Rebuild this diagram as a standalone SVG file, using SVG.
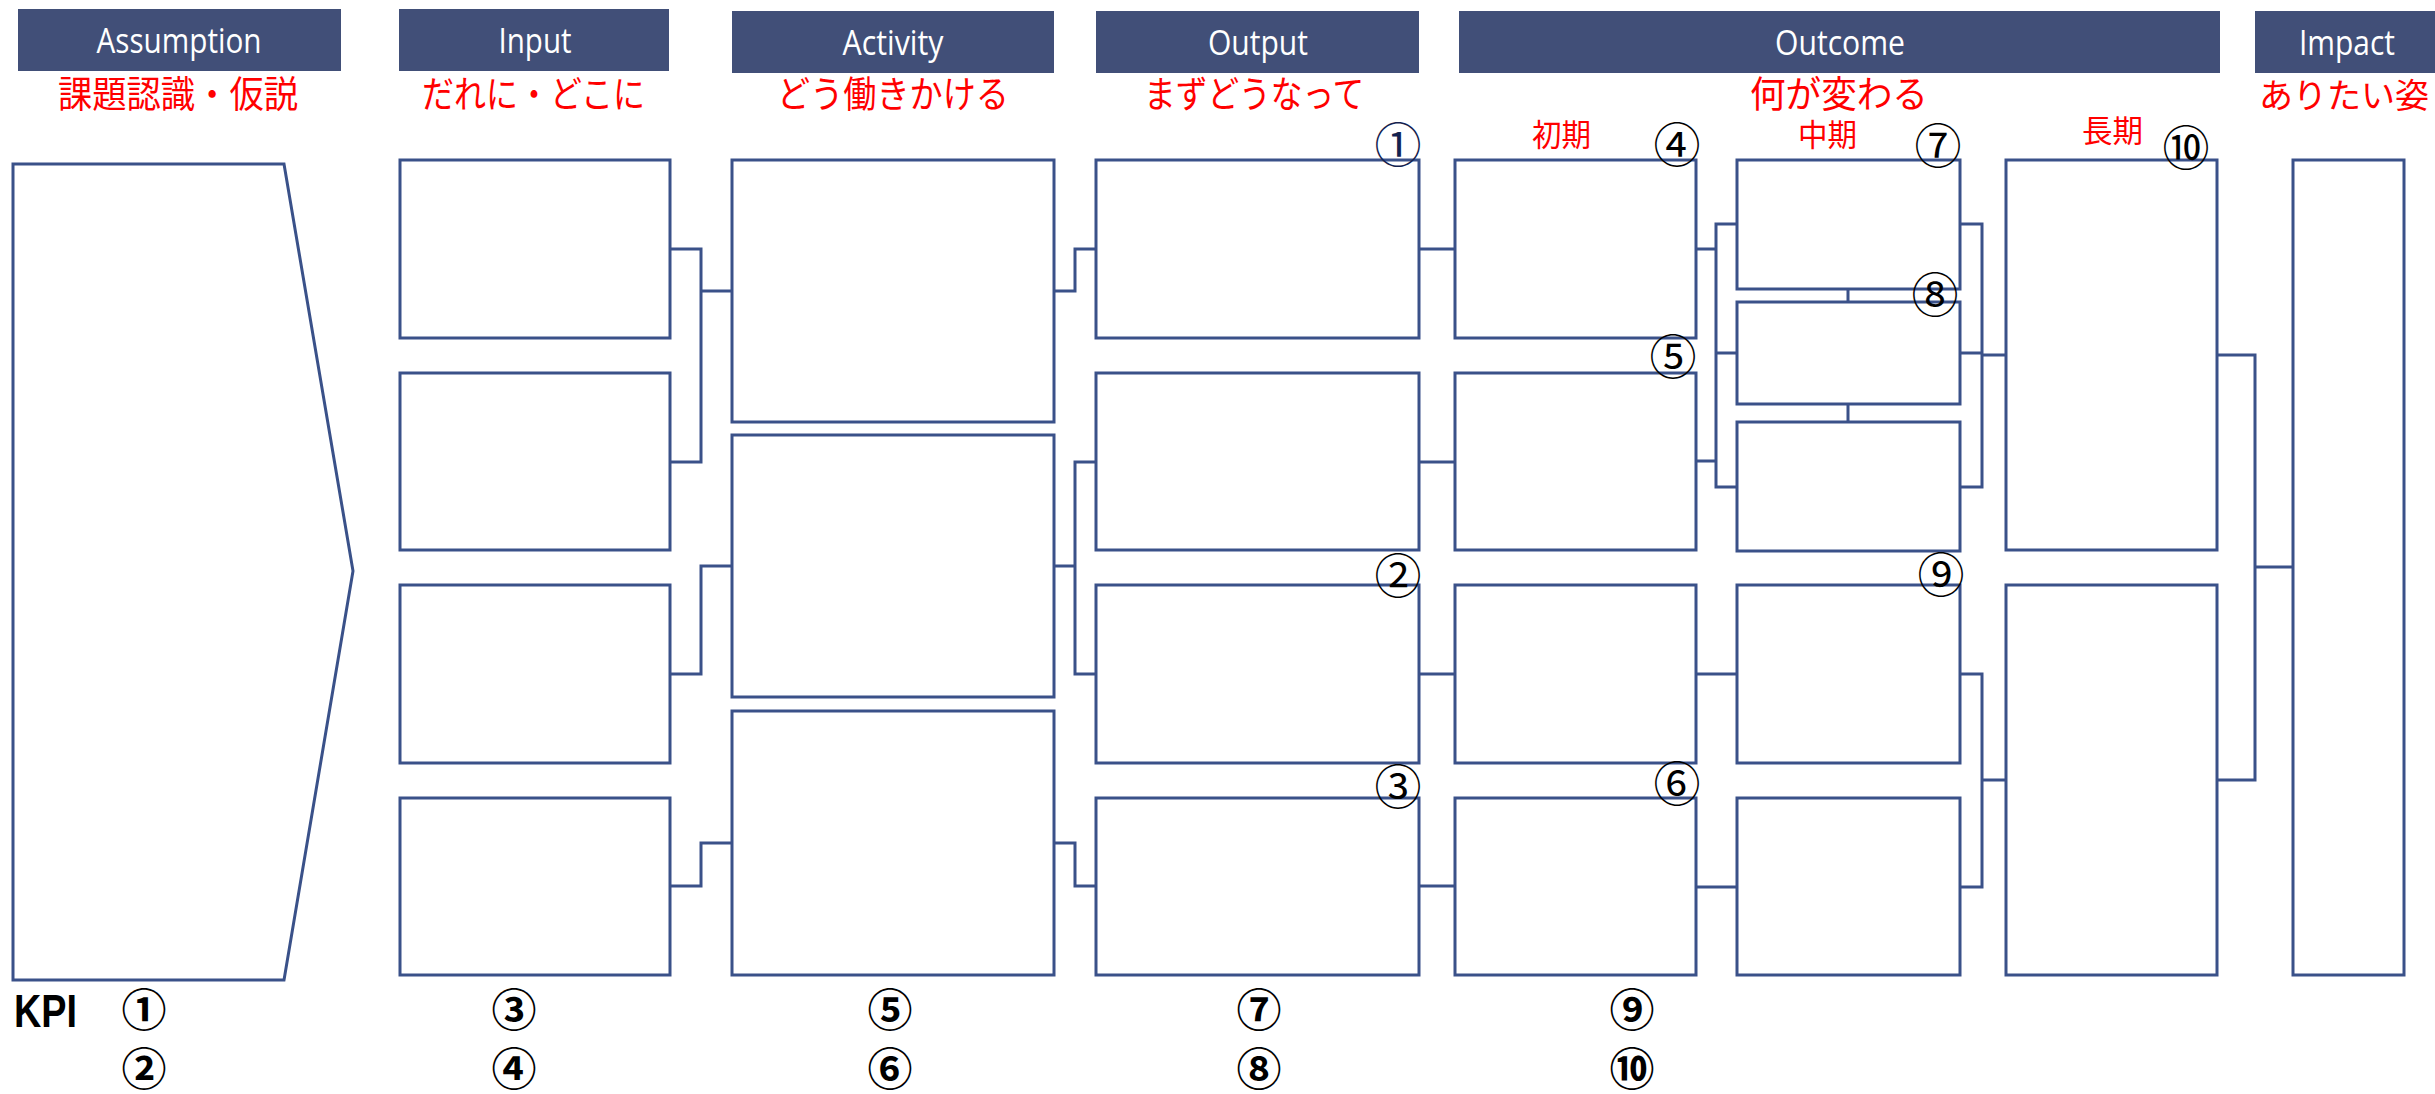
<svg xmlns="http://www.w3.org/2000/svg" width="2435" height="1094" viewBox="0 0 2435 1094">
<style>
.bg{fill:#fff}
.hdr{fill:#414F78}
.ht{font-family:"Open Sans","Noto Sans",sans-serif;font-size:34px;fill:#fff;text-anchor:middle}
.red{font-family:"Noto Sans CJK JP",sans-serif;font-size:37px;fill:#FF0000}
.sub{font-family:"Noto Sans CJK JP",sans-serif;font-size:31px;fill:#FF0000}
.box{fill:#fff;stroke:#3A5189;stroke-width:3}
.conn{fill:none;stroke:#3A5189;stroke-width:3}
.cn{font-family:"Noto Sans CJK JP",sans-serif;font-size:47px;fill:#000;text-anchor:middle;dominant-baseline:central}
.cb{font-family:"Noto Sans CJK JP",sans-serif;font-size:45px;font-weight:bold;fill:#000;text-anchor:middle;dominant-baseline:central}
.kpi{font-family:"Liberation Sans",Arial,sans-serif;font-size:46px;font-weight:bold;fill:#000}
</style>
<rect class="bg" x="0" y="0" width="2435" height="1094"/>

<g id="headers">
  <g id="h-assumption"><rect class="hdr" x="18" y="9" width="323" height="62"/><text class="ht" x="179" y="53" textLength="165" lengthAdjust="spacingAndGlyphs">Assumption</text></g>
  <g id="h-input"><rect class="hdr" x="399" y="9" width="270" height="62"/><text class="ht" x="535" y="53" textLength="73" lengthAdjust="spacingAndGlyphs">Input</text></g>
  <g id="h-activity"><rect class="hdr" x="732" y="11" width="322" height="62"/><text class="ht" x="893" y="55" textLength="101" lengthAdjust="spacingAndGlyphs">Activity</text></g>
  <g id="h-output"><rect class="hdr" x="1096" y="11" width="323" height="62"/><text class="ht" x="1258" y="55" textLength="100" lengthAdjust="spacingAndGlyphs">Output</text></g>
  <g id="h-outcome"><rect class="hdr" x="1459" y="11" width="761" height="62"/><text class="ht" x="1840" y="55" textLength="130" lengthAdjust="spacingAndGlyphs">Outcome</text></g>
  <g id="h-impact"><rect class="hdr" x="2255" y="11" width="180" height="62"/><text class="ht" x="2347" y="55" textLength="96" lengthAdjust="spacingAndGlyphs">Impact</text></g>
</g>

<g id="subtitles">
  <text class="red" transform="translate(58,108) scale(0.927,1)">課題認識・仮説</text>
  <text class="red" transform="translate(422,108) scale(0.865,1)">だれに・どこに</text>
  <text class="red" transform="translate(777,108) scale(0.896,1)">どう働きかける</text>
  <text class="red" transform="translate(1144,108) scale(0.857,1)">まずどうなって</text>
  <text class="red" transform="translate(1750,108) scale(0.962,1)">何が変わる</text>
  <text class="red" x="2259" y="108" style="font-size:34px">ありたい姿</text>
  <text class="sub" transform="translate(1532,146) scale(0.952,1)">初期</text>
  <text class="sub" transform="translate(1798,146) scale(0.952,1)">中期</text>
  <text class="sub" transform="translate(2082,142) scale(0.984,1)">長期</text>
</g>

<g id="connectors">
  <path class="conn" d="M670,249 H701 V462 H670 M701,291 H732"/>
  <path class="conn" d="M670,674 H701 V566 H732"/>
  <path class="conn" d="M670,886 H701 V843 H732"/>
  <path class="conn" d="M1054,291 H1075 V249 H1096"/>
  <path class="conn" d="M1096,462 H1075 V674 H1096 M1054,566 H1075"/>
  <path class="conn" d="M1054,843 H1075 V886 H1096"/>
  <path class="conn" d="M1419,249 H1455 M1419,462 H1455 M1419,674 H1455 M1419,886 H1455"/>
  <path class="conn" d="M1696,249 H1716 M1696,461 H1716 M1737,224 H1716 V487 H1737 M1716,353 H1737"/>
  <path class="conn" d="M1848,289 V302 M1848,404 V422"/>
  <path class="conn" d="M1696,674 H1737 M1696,887 H1737"/>
  <path class="conn" d="M1960,224 H1982 V487 H1960 M1960,353 H1982 M1982,355 H2006"/>
  <path class="conn" d="M1960,674 H1982 V887 H1960 M1982,780 H2006"/>
  <path class="conn" d="M2217,355 H2255 V780 H2217 M2255,567 H2293"/>
</g>

<g id="assumption"><polygon class="box" points="13,164 284,164 353,571 284,980 13,980"/></g>

<g id="input-1"><rect class="box" x="400" y="160" width="270" height="178"/></g>
<g id="input-2"><rect class="box" x="400" y="373" width="270" height="177"/></g>
<g id="input-3"><rect class="box" x="400" y="585" width="270" height="178"/></g>
<g id="input-4"><rect class="box" x="400" y="798" width="270" height="177"/></g>

<g id="activity-1"><rect class="box" x="732" y="160" width="322" height="262"/></g>
<g id="activity-2"><rect class="box" x="732" y="435" width="322" height="262"/></g>
<g id="activity-3"><rect class="box" x="732" y="711" width="322" height="264"/></g>

<g id="output-1"><rect class="box" x="1096" y="160" width="323" height="178"/></g>
<g id="output-2"><rect class="box" x="1096" y="373" width="323" height="177"/></g>
<g id="output-3"><rect class="box" x="1096" y="585" width="323" height="178"/></g>
<g id="output-4"><rect class="box" x="1096" y="798" width="323" height="177"/></g>

<g id="initial-1"><rect class="box" x="1455" y="160" width="241" height="178"/></g>
<g id="initial-2"><rect class="box" x="1455" y="373" width="241" height="177"/></g>
<g id="initial-3"><rect class="box" x="1455" y="585" width="241" height="178"/></g>
<g id="initial-4"><rect class="box" x="1455" y="798" width="241" height="177"/></g>

<g id="mid-1"><rect class="box" x="1737" y="160" width="223" height="129"/></g>
<g id="mid-2"><rect class="box" x="1737" y="302" width="223" height="102"/></g>
<g id="mid-3"><rect class="box" x="1737" y="422" width="223" height="129"/></g>
<g id="mid-4"><rect class="box" x="1737" y="585" width="223" height="178"/></g>
<g id="mid-5"><rect class="box" x="1737" y="798" width="223" height="177"/></g>

<g id="long-1"><rect class="box" x="2006" y="160" width="211" height="390"/></g>
<g id="long-2"><rect class="box" x="2006" y="585" width="211" height="390"/></g>

<g id="impact"><rect class="box" x="2293" y="160" width="111" height="815"/></g>

<g id="markers">
  <text class="cn" x="1398" y="141" style="fill:#13224F">①</text>
  <text class="cn" x="1398" y="572">②</text>
  <text class="cn" x="1398" y="783">③</text>
  <text class="cn" x="1677" y="141">④</text>
  <text class="cn" x="1673" y="353">⑤</text>
  <text class="cn" x="1677" y="780">⑥</text>
  <text class="cn" x="1938" y="142">⑦</text>
  <text class="cn" x="1935" y="291">⑧</text>
  <text class="cn" x="1941" y="571">⑨</text>
  <text class="cn" x="2186" y="144">⑩</text>
</g>

<g id="kpi">
  <text class="kpi" x="14" y="1027" textLength="63" lengthAdjust="spacingAndGlyphs">KPI</text>
  <text class="cb" x="144" y="1007">①</text>
  <text class="cb" x="144" y="1066">②</text>
  <text class="cb" x="514" y="1007">③</text>
  <text class="cb" x="514" y="1066">④</text>
  <text class="cb" x="890" y="1007">⑤</text>
  <text class="cb" x="890" y="1066">⑥</text>
  <text class="cb" x="1259" y="1007">⑦</text>
  <text class="cb" x="1259" y="1066">⑧</text>
  <text class="cb" x="1632" y="1007">⑨</text>
  <text class="cb" x="1632" y="1066">⑩</text>
</g>
</svg>
